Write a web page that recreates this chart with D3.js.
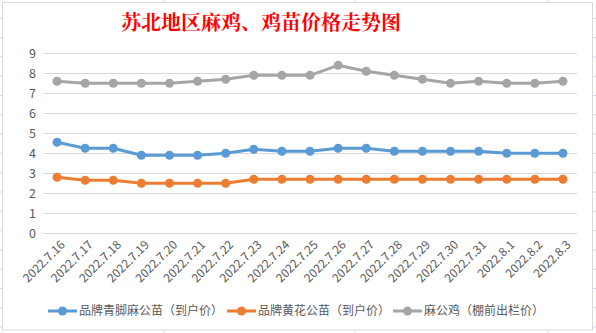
<!DOCTYPE html>
<html><head><meta charset="utf-8">
<script src="https://cdn.jsdelivr.net/npm/d3@7"></script>
<style>body{margin:0;background:#fff;}svg{display:block;}</style>
</head><body>
<svg id="c" width="596" height="333"></svg>
<script>
const categories = ["2022.7.16","2022.7.17","2022.7.18","2022.7.19","2022.7.20","2022.7.21","2022.7.22","2022.7.23","2022.7.24","2022.7.25","2022.7.26","2022.7.27","2022.7.28","2022.7.29","2022.7.30","2022.7.31","2022.8.1","2022.8.2","2022.8.3"];
const seriesNames = ["品牌青脚麻公苗（到户价）","品牌黄花公苗（到户价）","麻公鸡（棚前出栏价）"];
const blueValues = [4.55,4.25,4.25,3.9,3.9,3.9,4.0,4.2,4.1,4.1,4.25,4.25,4.1,4.1,4.1,4.1,4.0,4.0,4.0];
const orangeValues = [2.8,2.65,2.65,2.5,2.5,2.5,2.5,2.7,2.7,2.7,2.7,2.7,2.7,2.7,2.7,2.7,2.7,2.7,2.7];
const grayValues = [7.6,7.5,7.5,7.5,7.5,7.6,7.7,7.9,7.9,7.9,8.4,8.1,7.9,7.7,7.5,7.6,7.5,7.5,7.6];
const yTicks = [0,1,2,3,4,5,6,7,8,9];
const colors = ["#5B9BD5","#ED7D31","#A5A5A5"];
const title = "苏北地区麻鸡、鸡苗价格走势图";

const svg = d3.select("#c");
const W = 596, H = 333;

// spreadsheet background grid
const bg = svg.append("g");
for (let y = -1; y < H; y += 19.3) bg.append("line").attr("x1",0).attr("x2",W).attr("y1",y).attr("y2",y).attr("stroke","#d4d8e6");
[164,355,548].forEach(x => bg.append("line").attr("x1",x).attr("x2",x).attr("y1",0).attr("y2",H).attr("stroke","#d4d8e6"));

// chart area
svg.append("rect").attr("x",2.5).attr("y",2.5).attr("width",590).attr("height",327.5)
  .attr("fill","#fff").attr("stroke","#d9d9d9").attr("stroke-width",1);

const x = d3.scaleBand().domain(categories).range([43,577]);
const y = d3.scaleLinear().domain([0,9]).range([233.3,53.3]);

// gridlines
svg.append("g").selectAll("line").data(yTicks).join("line")
  .attr("x1",43).attr("x2",577)
  .attr("y1",d=>Math.round(y(d))+0.5).attr("y2",d=>Math.round(y(d))+0.5)
  .attr("stroke","#d9d9d9").attr("stroke-width",1);

// y axis labels
const yAxis = d3.axisLeft(y).tickValues(yTicks).tickSize(0).tickPadding(0).tickFormat(d3.format("d"));
const ya = svg.append("g").attr("transform","translate(36,0)").call(yAxis);
ya.select(".domain").remove();
ya.selectAll("text").attr("fill","#595959").style("font-family","'Microsoft YaHei','Noto Sans CJK SC',sans-serif").style("font-size","12.5px");

// x axis labels
const xAxis = d3.axisBottom(x).tickSize(0).tickPadding(0);
const xa = svg.append("g").attr("transform","translate(0,244)").call(xAxis);
xa.select(".domain").remove();
xa.selectAll("text")
  .attr("fill","#595959")
  .style("font-family","'Microsoft YaHei','Noto Sans CJK SC',sans-serif").style("font-size","12px")
  .attr("text-anchor","end").attr("dy","0.35em").attr("x",5).attr("y",3)
  .attr("transform","rotate(-45)");

// series
const allSeries = [blueValues, orangeValues, grayValues];
const line = d3.line().x((d,i)=>x(categories[i])+x.bandwidth()/2).y(d=>y(d));
const order = [2,0,1];
order.forEach(si => {
  const vals = allSeries[si];
  svg.append("path").datum(vals).attr("d",line).attr("fill","none")
    .attr("stroke",colors[si]).attr("stroke-width",3).attr("stroke-linejoin","round").attr("stroke-linecap","round");
  svg.append("g").selectAll("circle").data(vals).join("circle")
    .attr("cx",(d,i)=>x(categories[i])+x.bandwidth()/2).attr("cy",d=>y(d)).attr("r",4.5)
    .attr("fill",colors[si]);
});

// title
svg.append("text").attr("x",261).attr("y",30).attr("text-anchor","middle")
  .attr("fill","#FF0000").style("font-family","'Noto Serif CJK SC','SimSun','Noto Sans CJK SC',serif")
  .style("font-size","20px").style("font-weight","bold").text(title);

// legend
const lg = svg.append("g");
const starts = [48,227,393];
seriesNames.forEach((n,i)=>{
  const g = lg.append("g").attr("transform",`translate(${starts[i]},311)`);
  g.append("line").attr("x1",0).attr("x2",29).attr("y1",0).attr("y2",0).attr("stroke",colors[i]).attr("stroke-width",3);
  g.append("circle").attr("cx",14.5).attr("cy",0).attr("r",4.5).attr("fill",colors[i]);
  g.append("text").attr("x",31).attr("y",0).attr("dy","0.35em").attr("fill","#595959")
    .style("font-family","'Microsoft YaHei','Noto Sans CJK SC',sans-serif").style("font-size","12px").text(n);
});
</script>
</body></html>
